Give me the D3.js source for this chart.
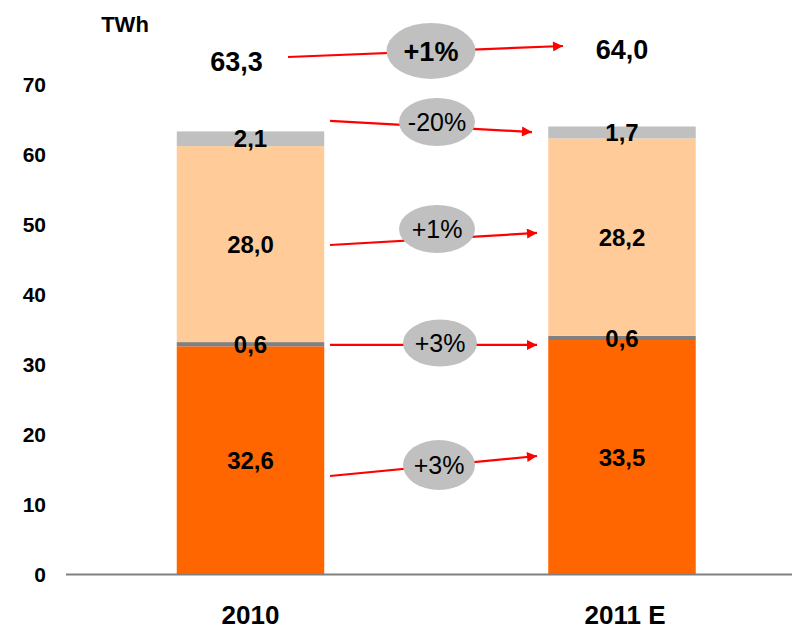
<!DOCTYPE html>
<html>
<head>
<meta charset="utf-8">
<script src="https://cdn.jsdelivr.net/npm/d3@7"></script>
<style>
  html, body { margin: 0; padding: 0; background: #fff; }
  svg { display: block; font-family: Arial, "Liberation Sans", sans-serif; }
</style>
</head>
<body>
<svg id="chart" width="792" height="629"></svg>
<script>
// ---- data ----
const categories = ["2010", "2011 E"];
const seriesKeys = ["s1", "s2", "s3", "s4"];
const s1Values = [32.6, 33.5];   // orange
const s2Values = [0.6, 0.6];     // dark grey
const s3Values = [28.0, 28.2];   // peach
const s4Values = [2.1, 1.7];     // light grey
const totals = ["63,3", "64,0"];
const yTicks = [0, 10, 20, 30, 40, 50, 60, 70];
const unitLabel = "TWh";
// change annotations: label, y (data units) at left end, right end, bubble centre
const changeLabels = ["+1%", "-20%", "+1%", "+3%", "+3%"];
const changeFromY = [73.93, 64.79, 47.07, 32.79, 14.07];
const changeToY   = [75.50, 63.21, 48.79, 32.79, 16.93];
const changeMidY  = [74.79, 64.64, 49.36, 33.07, 15.64];
const changeBold  = [true, false, false, false, false];

// ---- styling ----
const colors = { s1: "#FF6600", s2: "#808080", s3: "#FFCC99", s4: "#C0C0C0" };
const fmt = v => v.toFixed(1).replace(".", ",");

const rows = categories.map((c, i) => ({ cat: c, s1: s1Values[i], s2: s2Values[i], s3: s3Values[i], s4: s4Values[i] }));

const svg = d3.select("#chart");

const y = d3.scaleLinear().domain([0, 70]).range([574.5, 84.5]);
const x = d3.scaleBand().domain(categories).range([64.75, 807.75]).paddingInner(0.603).paddingOuter(0.3015);

const stack = d3.stack().keys(seriesKeys)(rows);

// bars
const g = svg.append("g");
stack.forEach(layer => {
  g.selectAll(null).data(layer).enter().append("rect")
    .attr("x", d => x(d.data.cat))
    .attr("width", x.bandwidth())
    .attr("y", d => y(d[1]))
    .attr("height", d => y(d[0]) - y(d[1]))
    .attr("fill", colors[layer.key]);
});

// baseline
svg.append("line")
  .attr("x1", 66).attr("x2", 792)
  .attr("y1", y(0)).attr("y2", y(0))
  .attr("stroke", "#808080").attr("stroke-width", 2);

// y tick labels
svg.append("g").selectAll("text").data(yTicks).enter().append("text")
  .attr("x", 46).attr("y", d => y(d))
  .attr("dy", "0.36em")
  .attr("text-anchor", "end")
  .attr("font-weight", "bold").attr("font-size", 21)
  .text(d => d);

// unit
svg.append("text").attr("x", 125).attr("y", 24).attr("dy", "0.36em")
  .attr("text-anchor", "middle").attr("font-weight", "bold").attr("font-size", 22)
  .text(unitLabel);

// segment labels
stack.forEach(layer => {
  svg.append("g").selectAll("text").data(layer).enter().append("text")
    .attr("x", d => x(d.data.cat) + x.bandwidth() / 2)
    .attr("y", d => (y(d[0]) + y(d[1])) / 2)
    .attr("dy", "0.36em")
    .attr("text-anchor", "middle")
    .attr("font-weight", "bold").attr("font-size", 24)
    .text(d => fmt(d[1] - d[0]));
});

// totals
const totalOffsetX = [-14, 0];
const totalY = [61.5, 49.5];
svg.append("g").selectAll("text").data(totals).enter().append("text")
  .attr("x", (d, i) => x(categories[i]) + x.bandwidth() / 2 + totalOffsetX[i])
  .attr("y", (d, i) => totalY[i])
  .attr("dy", "0.36em")
  .attr("text-anchor", "middle")
  .attr("font-weight", "bold").attr("font-size", 27)
  .text(d => d);

// category labels
svg.append("g").selectAll("text").data(categories).enter().append("text")
  .attr("x", d => x(d) + x.bandwidth() / 2 + (d === "2011 E" ? 3 : 0))
  .attr("y", 615)
  .attr("dy", "0.36em")
  .attr("text-anchor", "middle")
  .attr("font-weight", "bold").attr("font-size", 26)
  .text(d => d);

// arrow marker
svg.append("defs").append("marker")
  .attr("id", "arrow").attr("viewBox", "0 0 10 10")
  .attr("refX", 10).attr("refY", 5)
  .attr("markerUnits", "userSpaceOnUse")
  .attr("markerWidth", 14).attr("markerHeight", 10)
  .attr("orient", "auto")
  .append("path").attr("d", "M0,0 L10,5 L0,10 Z").attr("fill", "#FF0000");

const arrowX1 = [288, 330, 330, 330, 330];
const arrowX2 = [563, 532, 537, 537, 537];
const bubbleX = [431, 437, 437, 440, 439];
const bubbleRx = [44.5, 38, 38, 37, 36];
const bubbleRy = [28, 24, 24, 23.5, 25];

const ann = svg.append("g");
changeLabels.forEach((lab, i) => {
  ann.append("line")
    .attr("x1", arrowX1[i]).attr("y1", y(changeFromY[i]))
    .attr("x2", arrowX2[i]).attr("y2", y(changeToY[i]))
    .attr("stroke", "#FF0000").attr("stroke-width", 2.2)
    .attr("marker-end", "url(#arrow)");
  ann.append("ellipse")
    .attr("cx", bubbleX[i]).attr("cy", y(changeMidY[i]))
    .attr("rx", bubbleRx[i]).attr("ry", bubbleRy[i])
    .attr("fill", "#C0C0C0");
  ann.append("text")
    .attr("x", bubbleX[i]).attr("y", y(changeMidY[i]))
    .attr("dy", "0.36em")
    .attr("text-anchor", "middle")
    .attr("font-weight", changeBold[i] ? "bold" : "normal")
    .attr("font-size", changeBold[i] ? 27 : 25)
    .text(lab);
});
</script>
</body>
</html>
